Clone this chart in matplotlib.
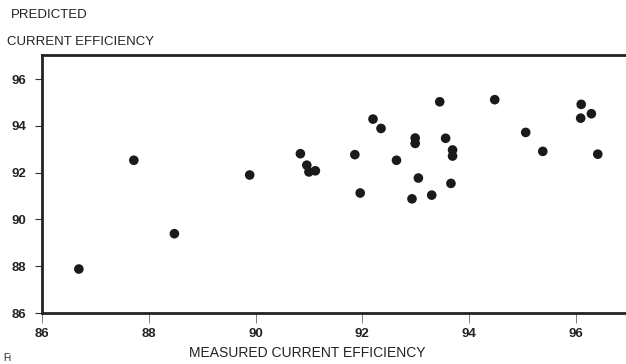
import matplotlib
matplotlib.use("Agg")
import matplotlib.pyplot as plt

plt.rcParams['font.family'] = ['Liberation Sans', 'DejaVu Sans']

measured = [86.69, 87.72, 88.48, 89.89, 90.84, 90.96, 91.00, 91.12,
            91.86, 91.96, 92.20, 92.35, 92.64, 92.93, 92.99, 92.99,
            93.05, 93.30, 93.45, 93.56, 93.66, 93.69, 93.69, 94.48,
            95.06, 95.38, 96.10, 96.09, 96.29, 96.41]
predicted = [87.88, 92.53, 89.39, 91.90, 92.81, 92.32, 92.03, 92.08,
             92.77, 91.13, 94.29, 93.89, 92.53, 90.88, 93.48, 93.25,
             91.77, 91.04, 95.03, 93.47, 91.54, 92.97, 92.71, 95.12,
             93.72, 92.91, 94.92, 94.33, 94.52, 92.79]
xticks = [86, 88, 90, 92, 94, 96]
yticks = [86, 88, 90, 92, 94, 96]

W, H = 626, 364
fig = plt.figure(figsize=(W / 100, H / 100), dpi=100)
ax = fig.add_axes([42 / W, (H - 313) / H, (625 - 42) / W, (313 - 55) / H])

ax.scatter(measured, predicted, s=48, color='#1a1a1a', edgecolors='none', zorder=3)

ax.set_xlim(86, 96.92)
ax.set_ylim(86, 97.03)
ax.set_xticks(xticks)
ax.set_yticks(yticks)
ax.set_xticklabels([str(v) for v in xticks], fontsize=9.5, fontweight='bold', color='#222222')
ax.set_yticklabels([str(v) for v in yticks], fontsize=9.5, fontweight='bold', color='#222222')
ax.tick_params(axis='y', direction='out', length=5, width=0.8, pad=6.5, color='#333333')
ax.tick_params(axis='x', direction='out', length=7, width=0.6, pad=4, color='#666666')

for side in ['left', 'top', 'bottom']:
    ax.spines[side].set_linewidth(2.0)
    ax.spines[side].set_color('#222222')
ax.spines['right'].set_visible(False)

fig.text(11 / W, 1 - 15 / H, 'PREDICTED', fontsize=9.5, va='center', ha='left', color='#222222')
fig.text(7 / W, 1 - 42 / H, 'CURRENT EFFICIENCY', fontsize=9.5, va='center', ha='left', color='#222222')
fig.text(307 / W, 1 - 353 / H, 'MEASURED CURRENT EFFICIENCY', fontsize=10, va='center', ha='center', color='#222222')
fig.text(3 / W, 1 / H, 'Fi', fontsize=7, va='bottom', ha='left', color='#222222')

fig.savefig('out.png', dpi=100)
